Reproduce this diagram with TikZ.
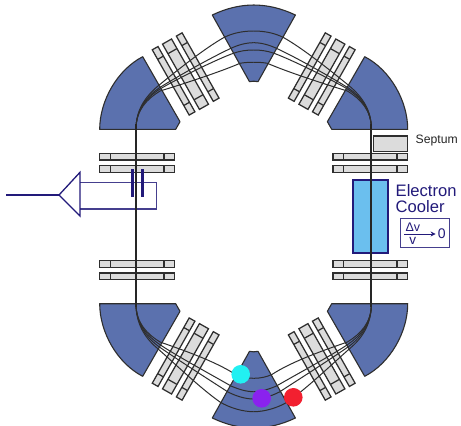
\documentclass[tikz,border=0pt]{standalone}
\usepackage{fontspec}
\setmainfont{Liberation Sans}
\usetikzlibrary{arrows.meta}
\definecolor{dip}{HTML}{5B71AE}
\definecolor{edge}{HTML}{2E2E2E}
\definecolor{barfill}{HTML}{DCDCDC}
\definecolor{navy}{HTML}{221A7A}
\definecolor{navyl}{HTML}{453F8E}
\definecolor{cool}{HTML}{6BBFEE}
\tikzset{
  x=1pt,y=-1pt,
  dipole/.style={fill=dip,draw=edge,line width=1.1pt,line join=round},
  qbarstyle/.style={fill=barfill,draw=edge,line width=1.25pt},
  beamline/.style={draw=edge,line width=1pt},
  mainbeam/.style={draw=black!85,line width=1.9pt},
  spot/.style={circle,inner sep=0pt,minimum size=18.6pt,draw=none},
  navytext/.style={text=navy,inner sep=0pt,font=\fontsize{16.6}{16.6}\selectfont,anchor=base west}
}
\newcommand{\qbar}[3]{%
  \begin{scope}[shift={(#1,#2)},rotate=-60.5]
    \draw[qbarstyle] (-37.5,-#3/2) rectangle (37.5,#3/2);
    \draw[qbarstyle] (-26.5,-#3/2) -- (-26.5,#3/2) (26.5,-#3/2) -- (26.5,#3/2);
  \end{scope}}
\newcommand{\hbarpair}{%
  \draw[qbarstyle] (99.7,153.3) rectangle (174.3,160);
  \draw[qbarstyle] (110.3,153.3) -- (110.3,160) (164,153.3) -- (164,160);
  \draw[qbarstyle] (99.7,165.7) rectangle (174.3,172.3);
  \draw[qbarstyle] (110.3,165.7) -- (110.3,172.3) (164,165.7) -- (164,172.3);}
\newcommand{\corner}{%
  \draw[dipole] (99.7,129.3) .. controls (99.7,100.7) and (117.3,69.8) .. (142.7,56.7)
    -- (180,121.7) -- (175.7,129.3) -- cycle;
  \qbar{173.6}{80.8}{6.6}
  \qbar{185.5}{74.2}{10.4}
  \qbar{197.7}{67.1}{6.6}
  \hbarpair}
\newcommand{\fanTop}{%
  \draw[beamline] (136,129.3) .. controls (136,110) and (145,97) .. (158,86) .. controls (175,72) and (205,48) .. (224.3,37.3) .. controls (233,33) and (243,31) .. (253.7,31);
  \draw[beamline] (136,129.3) .. controls (136,110) and (146,97) .. (159,88) .. controls (175,78) and (210,58) .. (231,48.3) .. controls (238,45) and (246,42.7) .. (253.7,42.7);
  \draw[beamline] (136,129.3) .. controls (136,110) and (146,98) .. (160,89) .. controls (175,80) and (215,60) .. (233.3,53.3) .. controls (240,51) and (246,50) .. (253.7,50);
  \draw[beamline] (136,129.3) .. controls (136,110) and (147,99) .. (160,91) .. controls (180,85) and (220,72) .. (240,63.3) .. controls (244,62.5) and (249,62.3) .. (253.7,62.3);}
\newcommand{\fanBottom}{%
  \draw[beamline] (136,129.3) .. controls (136,110) and (144,96) .. (157,85) .. controls (172,72) and (200,45) .. (220,31) .. controls (230,25) and (243,21.3) .. (253.7,21.3);
  \draw[beamline] (136,129.3) .. controls (136,110) and (145,97) .. (158,87) .. controls (175,75) and (208,54) .. (228,41) .. controls (236,37) and (245,34) .. (253.7,34);
  \draw[beamline] (136,129.3) .. controls (136,110) and (146,98) .. (159,89) .. controls (175,78) and (212,58) .. (231,47) .. controls (238,44) and (246,41.3) .. (253.7,41.3);
  \draw[beamline] (136,129.3) .. controls (136,110) and (147,99) .. (160,91) .. controls (180,84) and (215,72) .. (235.5,58.5) .. controls (241,56) and (247,54.7) .. (253.7,54.7);}
\newcommand{\sector}{%
  \draw[dipole] (212.3,15) .. controls (240,1.7) and (267.4,1.7) .. (295.4,15)
    -- (258,81.7) .. controls (255,81) and (252,81) .. (249.5,81.7) -- cycle;}
\begin{document}
\begin{tikzpicture}
\useasboundingbox (0,0) rectangle (461,426);
\fill[white] (0,0) rectangle (461,426);
\clip (0,0) rectangle (461,426);
% dipoles and quadrupoles, four mirrored corners
\sector
\begin{scope}[shift={(0,433)},yscale=-1] \sector \end{scope}
\corner
\begin{scope}[shift={(507.4,0)},xscale=-1] \corner \end{scope}
\begin{scope}[shift={(0,433)},yscale=-1] \corner \end{scope}
\begin{scope}[shift={(507.4,433)},xscale=-1,yscale=-1] \corner \end{scope}
% septum
\draw[qbarstyle] (373.3,136) rectangle (407.7,151.3);
% electron cooler
\draw[fill=cool,draw=navy,line width=2.2pt] (352.7,180) rectangle (388.3,253.3);
% extraction box
\draw[navyl,line width=1.3pt,line join=miter] (80,182.3) -- (156.7,182.3) -- (156.7,209) -- (80,209);
\coordinate (feedend) at (6,195);
\coordinate (feedtip) at (59,195);
\draw[navy,line width=1.2pt] (feedend) -- (feedtip);
\draw[navy,line width=1.3pt,line join=miter] (feedtip) -- (80,172.3) -- (80,216) -- cycle;
% beams
\fanTop
\begin{scope}[shift={(507.4,0)},xscale=-1] \fanTop \end{scope}
\begin{scope}[shift={(0,433)},yscale=-1] \fanBottom \end{scope}
\begin{scope}[shift={(507.4,433)},xscale=-1,yscale=-1] \fanBottom \end{scope}
\draw[draw=black!85,line width=1.2pt] (136,124) -- (136,193);
\draw[mainbeam,line width=2.2pt] (136,192) -- (136,307);
\draw[mainbeam] (371.4,124) -- (371.4,307);
% electrostatic plates
\draw[navy,line width=3pt] (132.7,169) -- (132.7,196.7);
\draw[navy,line width=3pt] (142,169) -- (142,196.7);
% labels
\node[anchor=base west,inner sep=0pt,font=\fontsize{12.2}{12.2}\selectfont,text=black!85] (septum) at (415.5,143.5) {Septum};
\node[navytext] (electron) at (395.5,196.7) {Electron};
\node[navytext] (cooler) at (395.5,212.3) {Cooler};
\node[draw=navyl,line width=1.1pt,fill=white,minimum width=48.6pt,minimum height=29pt,inner sep=0pt] (dvbox) at (425,233.2) {};
\draw[navy,line width=0.8pt] (404,234) -- (421.7,234);
\node[inner sep=0pt,text=navy,font=\fontsize{12.5}{12.5}\selectfont] (dv) at (412.8,227.3) {Δv};
\node[inner sep=0pt,text=navy,font=\fontsize{13.5}{13.5}\selectfont] (vv) at (412.8,240.8) {v};
\node[inner sep=0pt,text=navy,font=\fontsize{14}{14}\selectfont] (zero) at (441.7,233.8) {0};
\coordinate (arrowstart) at (421.7,234);
\draw[navy,line width=1pt,shorten >=2pt,-{Stealth[length=5pt,width=5pt]}] (arrowstart) -- (zero.west |- arrowstart);
% coloured bunches
\node[spot,fill={rgb,255:red,34;green,240;blue,242}] (cyanspot) at (240.7,374.3) {};
\node[spot,fill={rgb,255:red,138;green,34;blue,238}] (purplespot) at (261.7,398.3) {};
\node[spot,fill={rgb,255:red,242;green,32;blue,48}] (redspot) at (293.3,397.3) {};
\end{tikzpicture}
\end{document}
